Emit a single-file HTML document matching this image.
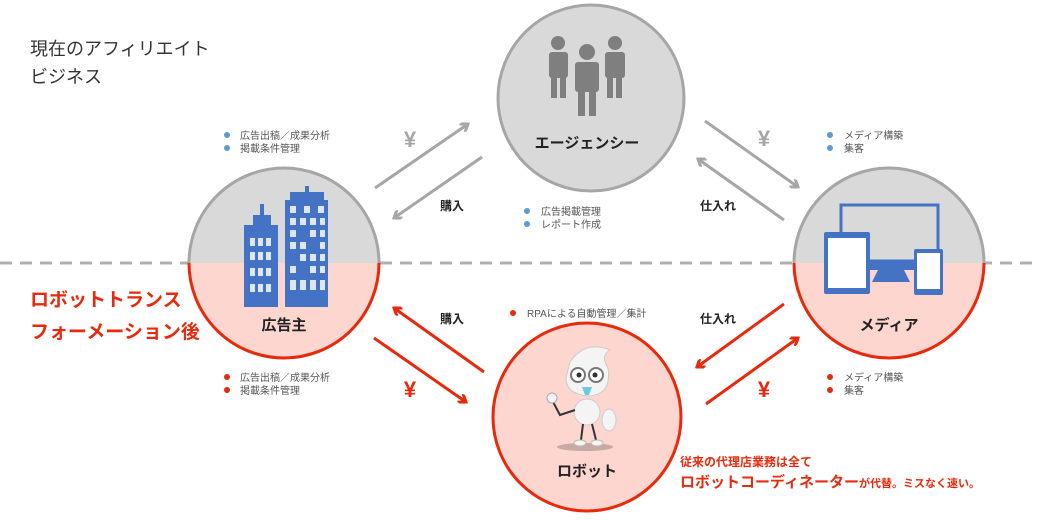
<!DOCTYPE html>
<html><head><meta charset="utf-8"><style>
body{margin:0;background:#fff;width:1040px;height:521px;overflow:hidden}
svg{display:block}
text{font-family:"Liberation Sans","Noto Sans CJK JP",sans-serif}
</style></head><body>
<svg width="1040" height="521" viewBox="0 0 1040 521" xmlns="http://www.w3.org/2000/svg">
<defs>
<clipPath id="top"><rect x="0" y="0" width="1040" height="263"/></clipPath>
<clipPath id="bot"><rect x="0" y="263" width="1040" height="300"/></clipPath>
<marker id="ag" markerWidth="10" markerHeight="10" refX="8" refY="5" orient="auto" markerUnits="userSpaceOnUse"><path d="M1,0 L8,5 L1,10" fill="none" stroke="#a6a6a6" stroke-width="3"/></marker>
<marker id="ar" markerWidth="10" markerHeight="10" refX="8" refY="5" orient="auto" markerUnits="userSpaceOnUse"><path d="M1,0 L8,5 L1,10" fill="none" stroke="#e8290b" stroke-width="3"/></marker>
</defs>

<text x="30" y="55" font-size="18" fill="#333">現在のアフィリエイト</text>
<text x="30" y="83" font-size="18" fill="#333">ビジネス</text>
<text x="30" y="306" font-size="19" font-weight="bold" fill="#e8290b">ロボットトランス</text>
<text x="30" y="338" font-size="19" font-weight="bold" fill="#e8290b">フォーメーション後</text>

<line x1="0" y1="263" x2="1040" y2="263" stroke="#b0b0b0" stroke-width="3" stroke-dasharray="12,8"/>

<circle cx="591" cy="98" r="93" fill="#d9d9d9" stroke="#a6a6a6" stroke-width="3"/>
<g fill="#7f7f7f">
<circle cx="558" cy="43" r="7"/><rect x="549" y="52" width="19" height="26" rx="3"/><rect x="551" y="76" width="6" height="22"/><rect x="560" y="76" width="6" height="22"/>
<circle cx="615" cy="43" r="7"/><rect x="605" y="52" width="20" height="26" rx="3"/><rect x="607" y="76" width="6" height="22"/><rect x="616" y="76" width="6" height="22"/>
<circle cx="587" cy="52" r="8"/><rect x="575" y="62" width="24" height="30" rx="3"/><rect x="578" y="90" width="7" height="26"/><rect x="589" y="90" width="7" height="26"/>
</g>
<text x="587" y="148" font-size="15" font-weight="bold" fill="#222" text-anchor="middle">エージェンシー</text>

<g clip-path="url(#top)"><circle cx="284" cy="263" r="95" fill="#d9d9d9" stroke="#a6a6a6" stroke-width="3"/></g>
<g clip-path="url(#bot)"><circle cx="284" cy="263" r="95" fill="#fcd6cf" stroke="#e8290b" stroke-width="3"/></g>
<g fill="#4472c4">
<rect x="244" y="225" width="34" height="82"/><rect x="260" y="204" width="4" height="22"/><rect x="253" y="215" width="18" height="12"/>
<rect x="285" y="200" width="43" height="107"/><rect x="290" y="192" width="34" height="9"/><rect x="305" y="186" width="4" height="8"/>
</g>
<g fill="#dfe6f3">
<rect x="250" y="238" width="5" height="8"/><rect x="258" y="238" width="5" height="8"/><rect x="266" y="238" width="5" height="8"/>
<rect x="250" y="252" width="5" height="8"/><rect x="258" y="252" width="5" height="8"/><rect x="266" y="252" width="5" height="8"/>
<rect x="250" y="268" width="5" height="8"/><rect x="258" y="268" width="5" height="8"/><rect x="266" y="268" width="5" height="8"/>
<rect x="250" y="284" width="5" height="8"/><rect x="258" y="284" width="5" height="8"/><rect x="266" y="284" width="5" height="8"/>
<rect x="290" y="206" width="6" height="7"/><rect x="304" y="206" width="6" height="7"/><rect x="318" y="206" width="6" height="7"/>
<rect x="290" y="218" width="6" height="7"/><rect x="300" y="218" width="6" height="7"/><rect x="310" y="218" width="6" height="7"/><rect x="320" y="218" width="5" height="7"/>
<rect x="290" y="230" width="6" height="7"/><rect x="310" y="230" width="6" height="7"/><rect x="320" y="230" width="5" height="7"/>
<rect x="290" y="242" width="6" height="7"/><rect x="300" y="242" width="6" height="7"/><rect x="320" y="242" width="5" height="7"/>
<rect x="300" y="254" width="6" height="7"/><rect x="310" y="254" width="6" height="7"/><rect x="320" y="254" width="5" height="7"/>
<rect x="290" y="266" width="6" height="7"/><rect x="310" y="266" width="6" height="7"/><rect x="320" y="266" width="5" height="7"/>
<rect x="290" y="280" width="6" height="10"/><rect x="300" y="280" width="6" height="10"/><rect x="310" y="280" width="6" height="10"/><rect x="320" y="280" width="5" height="10"/>
</g>
<text x="284" y="330" font-size="15" font-weight="bold" fill="#222" text-anchor="middle">広告主</text>

<g clip-path="url(#top)"><circle cx="889" cy="263" r="95" fill="#d9d9d9" stroke="#a6a6a6" stroke-width="3"/></g>
<g clip-path="url(#bot)"><circle cx="889" cy="263" r="95" fill="#fcd6cf" stroke="#e8290b" stroke-width="3"/></g>
<rect x="841" y="205" width="97" height="56" fill="none" stroke="#4472c4" stroke-width="3"/>
<rect x="866" y="260" width="50" height="10" fill="#4472c4"/><path d="M878,270 L904,270 L910,282 L872,282Z" fill="#4472c4"/>
<rect x="824" y="232" width="46" height="62" rx="2" fill="#4472c4"/><rect x="828" y="238" width="38" height="50" fill="#fff"/>
<rect x="914" y="249" width="29" height="46" rx="2" fill="#4472c4"/><rect x="917" y="253" width="23" height="36" fill="#fff"/>
<text x="889" y="330" font-size="15" font-weight="bold" fill="#222" text-anchor="middle">メディア</text>

<circle cx="587" cy="417" r="94" fill="#fcd6cf" stroke="#e8290b" stroke-width="3"/>
<ellipse cx="585" cy="447" rx="28" ry="4" fill="#c9a9a3"/>
<path d="M570,362 Q585,340 610,350 Q600,356 608,368 Q612,395 588,396 Q566,394 566,378Z" fill="#f4f4f4" stroke="#ccc"/>
<circle cx="578" cy="375" r="7" fill="#fff" stroke="#777" stroke-width="2"/><circle cx="596" cy="375" r="7" fill="#fff" stroke="#777" stroke-width="2"/>
<circle cx="579" cy="375" r="2.5" fill="#333"/><circle cx="595" cy="375" r="2.5" fill="#333"/>
<path d="M582,387 L592,387 L589,395 L585,395Z" fill="#6ccbd8"/>
<ellipse cx="587" cy="412" rx="13" ry="13" fill="#f4f4f4" stroke="#ccc"/>
<path d="M575,410 L560,415 L552,400" fill="none" stroke="#333" stroke-width="2"/><circle cx="552" cy="398" r="5" fill="#f4f4f4" stroke="#aaa"/>
<ellipse cx="609" cy="420" rx="7" ry="11" fill="#f4f4f4" stroke="#ccc"/>
<path d="M583,424 L581,440 M592,424 L596,440" stroke="#333" stroke-width="2"/>
<ellipse cx="580" cy="443" rx="6" ry="3" fill="#f4f4f4" stroke="#bbb"/><ellipse cx="597" cy="443" rx="6" ry="3" fill="#f4f4f4" stroke="#bbb"/>
<text x="587" y="476" font-size="15" font-weight="bold" fill="#222" text-anchor="middle">ロボット</text>

<g stroke="#a6a6a6" stroke-width="3" fill="none">
<line x1="375" y1="188" x2="468" y2="124" marker-end="url(#ag)"/>
<line x1="482" y1="157" x2="394" y2="218" marker-end="url(#ag)"/>
<line x1="705" y1="121" x2="798" y2="187" marker-end="url(#ag)"/>
<line x1="784" y1="220" x2="698" y2="159" marker-end="url(#ag)"/>
</g>
<g stroke="#e8290b" stroke-width="3" fill="none">
<line x1="374" y1="338" x2="466" y2="402" marker-end="url(#ar)"/>
<line x1="484" y1="372" x2="394" y2="308" marker-end="url(#ar)"/>
<line x1="784" y1="304" x2="697" y2="367" marker-end="url(#ar)"/>
<line x1="706" y1="404" x2="798" y2="338" marker-end="url(#ar)"/>
</g>
<text x="410" y="147" font-size="22" font-weight="bold" fill="#a6a6a6" text-anchor="middle">¥</text>
<text x="764" y="146" font-size="22" font-weight="bold" fill="#a6a6a6" text-anchor="middle">¥</text>
<text x="410" y="397" font-size="22" font-weight="bold" fill="#e8290b" text-anchor="middle">¥</text>
<text x="764" y="397" font-size="22" font-weight="bold" fill="#e8290b" text-anchor="middle">¥</text>
<text x="452" y="210" font-size="12" font-weight="bold" fill="#222" text-anchor="middle">購入</text>
<text x="452" y="323" font-size="12" font-weight="bold" fill="#222" text-anchor="middle">購入</text>
<text x="718" y="210" font-size="12" font-weight="bold" fill="#222" text-anchor="middle">仕入れ</text>
<text x="718" y="323" font-size="12" font-weight="bold" fill="#222" text-anchor="middle">仕入れ</text>

<g font-size="10" fill="#555">
<circle cx="227" cy="135" r="3" fill="#5b9bd5"/><text x="240" y="139">広告出稿／成果分析</text>
<circle cx="227" cy="148" r="3" fill="#5b9bd5"/><text x="240" y="152">掲載条件管理</text>
<circle cx="527" cy="211" r="3" fill="#5b9bd5"/><text x="541" y="215">広告掲載管理</text>
<circle cx="527" cy="224" r="3" fill="#5b9bd5"/><text x="541" y="228">レポート作成</text>
<circle cx="830" cy="135" r="3" fill="#5b9bd5"/><text x="844" y="139">メディア構築</text>
<circle cx="830" cy="148" r="3" fill="#5b9bd5"/><text x="844" y="152">集客</text>
<circle cx="513" cy="313" r="3" fill="#e8290b"/><text x="527" y="317">RPAによる自動管理／集計</text>
<circle cx="227" cy="377" r="3" fill="#e8290b"/><text x="240" y="381">広告出稿／成果分析</text>
<circle cx="227" cy="390" r="3" fill="#e8290b"/><text x="240" y="394">掲載条件管理</text>
<circle cx="830" cy="377" r="3" fill="#e8290b"/><text x="844" y="381">メディア構築</text>
<circle cx="830" cy="390" r="3" fill="#e8290b"/><text x="844" y="394">集客</text>
</g>
<text x="680" y="466" font-size="12" font-weight="bold" fill="#e8290b">従来の代理店業務は全て</text>
<text x="680" y="487" font-weight="bold" fill="#e8290b"><tspan font-size="15">ロボットコーディネーター</tspan><tspan font-size="11">が代替。ミスなく速い。</tspan></text>
</svg>
</body></html>
